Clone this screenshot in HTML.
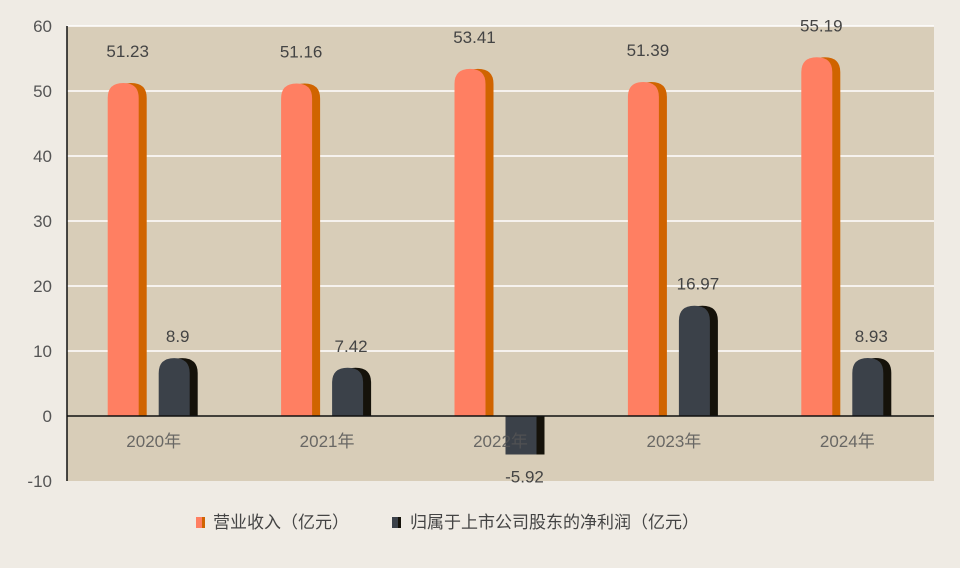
<!DOCTYPE html>
<html><head><meta charset="utf-8"><style>
body{margin:0;background:#EFEBE4;font-family:"Liberation Sans","Noto Sans CJK SC",sans-serif;}
svg text{font-family:"Liberation Sans","Noto Sans CJK SC",sans-serif;}
</style></head><body>
<svg id="chart" width="960" height="563">
<rect x="0" y="0" width="960" height="563" fill="#EFEBE4"/>
<g id="plot"></g>
<g>
<rect x="196" y="517" width="9" height="11" fill="#FF7F62"/>
<rect x="202" y="517" width="3" height="11" fill="#D06400"/>
<text x="213" y="528" font-size="17" fill="#444">营业收入（亿元）</text>
<rect x="392" y="517" width="9" height="11" fill="#3B4149"/>
<rect x="398" y="517" width="3" height="11" fill="#15120A"/>
<text x="410" y="528" font-size="17" fill="#444">归属于上市公司股东的净利润（亿元）</text>
</g>
</svg>
<script>
const categories=["2020年","2021年","2022年","2023年","2024年"];
const revenue=[51.23,51.16,53.41,51.39,55.19];
const profit=[8.9,7.42,-5.92,16.97,8.93];
const revenueLabels=["51.23","51.16","53.41","51.39","55.19"];
const profitLabels=["8.9","7.42","-5.92","16.97","8.93"];
const yTicks=[-10,0,10,20,30,40,50,60];

const NS="http://www.w3.org/2000/svg";
const g=document.getElementById('plot');
const X0=67,X1=934,Ymin=-10,Ymax=60,PT=26,PB=481;
const y=v=>PB-(v-Ymin)/(Ymax-Ymin)*(PB-PT);
const bw=(X1-X0)/categories.length;
const cx=i=>X0+bw*(i+0.5);
function mk(t,a){const e=document.createElementNS(NS,t);for(const k in a)e.setAttribute(k,a[k]);g.appendChild(e);return e;}
let bg=mk('rect',{x:X0,y:PT,width:X1-X0,height:PB-PT,fill:'#D8CDB8'});


yTicks.forEach(t=>{
  if(t!==0&&t!==Ymin){let l=mk('line',{x1:X0,x2:X1,y1:y(t),y2:y(t),stroke:'#fff','stroke-width':1.5});
  
  }
  let tx=mk('text',{x:52,y:y(t)+6,'font-size':17,fill:'#555','text-anchor':'end'});tx.textContent=t;
  
  
});
let ya=mk('line',{x1:X0,x2:X0,y1:PT,y2:PB,stroke:'#111','stroke-width':1.5});


function bar(xl,v,front,side,rounded,name){
  const w=31,s=8,y0=y(0),yv=y(v);
  const top=Math.min(y0,yv),h=Math.abs(y0-yv);
  const grp=document.createElementNS(NS,'g');g.appendChild(grp);
  
  
  const r=rounded?Math.min(15,h/2):0;
  const p1=document.createElementNS(NS,'path');
  const xs=xl+s;
  p1.setAttribute('d',`M${xs} ${top+h} V${top+r} Q${xs} ${top} ${xs+w/2} ${top} Q${xs+w} ${top} ${xs+w} ${top+r} V${top+h} Z`);
  p1.setAttribute('fill',side);grp.appendChild(p1);
  const p2=document.createElementNS(NS,'path');
  p2.setAttribute('d',`M${xl} ${top+h} V${top+r} Q${xl} ${top} ${xl+w/2} ${top} Q${xl+w} ${top} ${xl+w} ${top+r} V${top+h} Z`);
  p2.setAttribute('fill',front);grp.appendChild(p2);
}
categories.forEach((c,i)=>{
  const cc=cx(i);
  bar(cc-46,revenue[i],'#FF7F62','#D06400',true,'bar-revenue-'+c);
  bar(cc+5,profit[i],'#3B4149','#15120A',profit[i]>0,'bar-profit-'+c);
  let t1=mk('text',{x:cc-26,y:y(revenue[i])-26,'font-size':17,fill:'#444','text-anchor':'middle'});t1.textContent=revenueLabels[i];
  
  
  const py=profit[i]>=0?y(profit[i])-16:y(profit[i])+28;
  let t2=mk('text',{x:cc+24,y:py,'font-size':17,fill:'#444','text-anchor':'middle'});t2.textContent=profitLabels[i];
  
  
  let t3=mk('text',{x:cc,y:y(0)+31,'font-size':17,fill:'#555','text-anchor':'middle','fill-opacity':0.85});t3.textContent=c;
  
  
});
let za=mk('line',{x1:X0,x2:X1,y1:y(0),y2:y(0),stroke:'#111','stroke-width':1.5});


</script>
</body></html>
